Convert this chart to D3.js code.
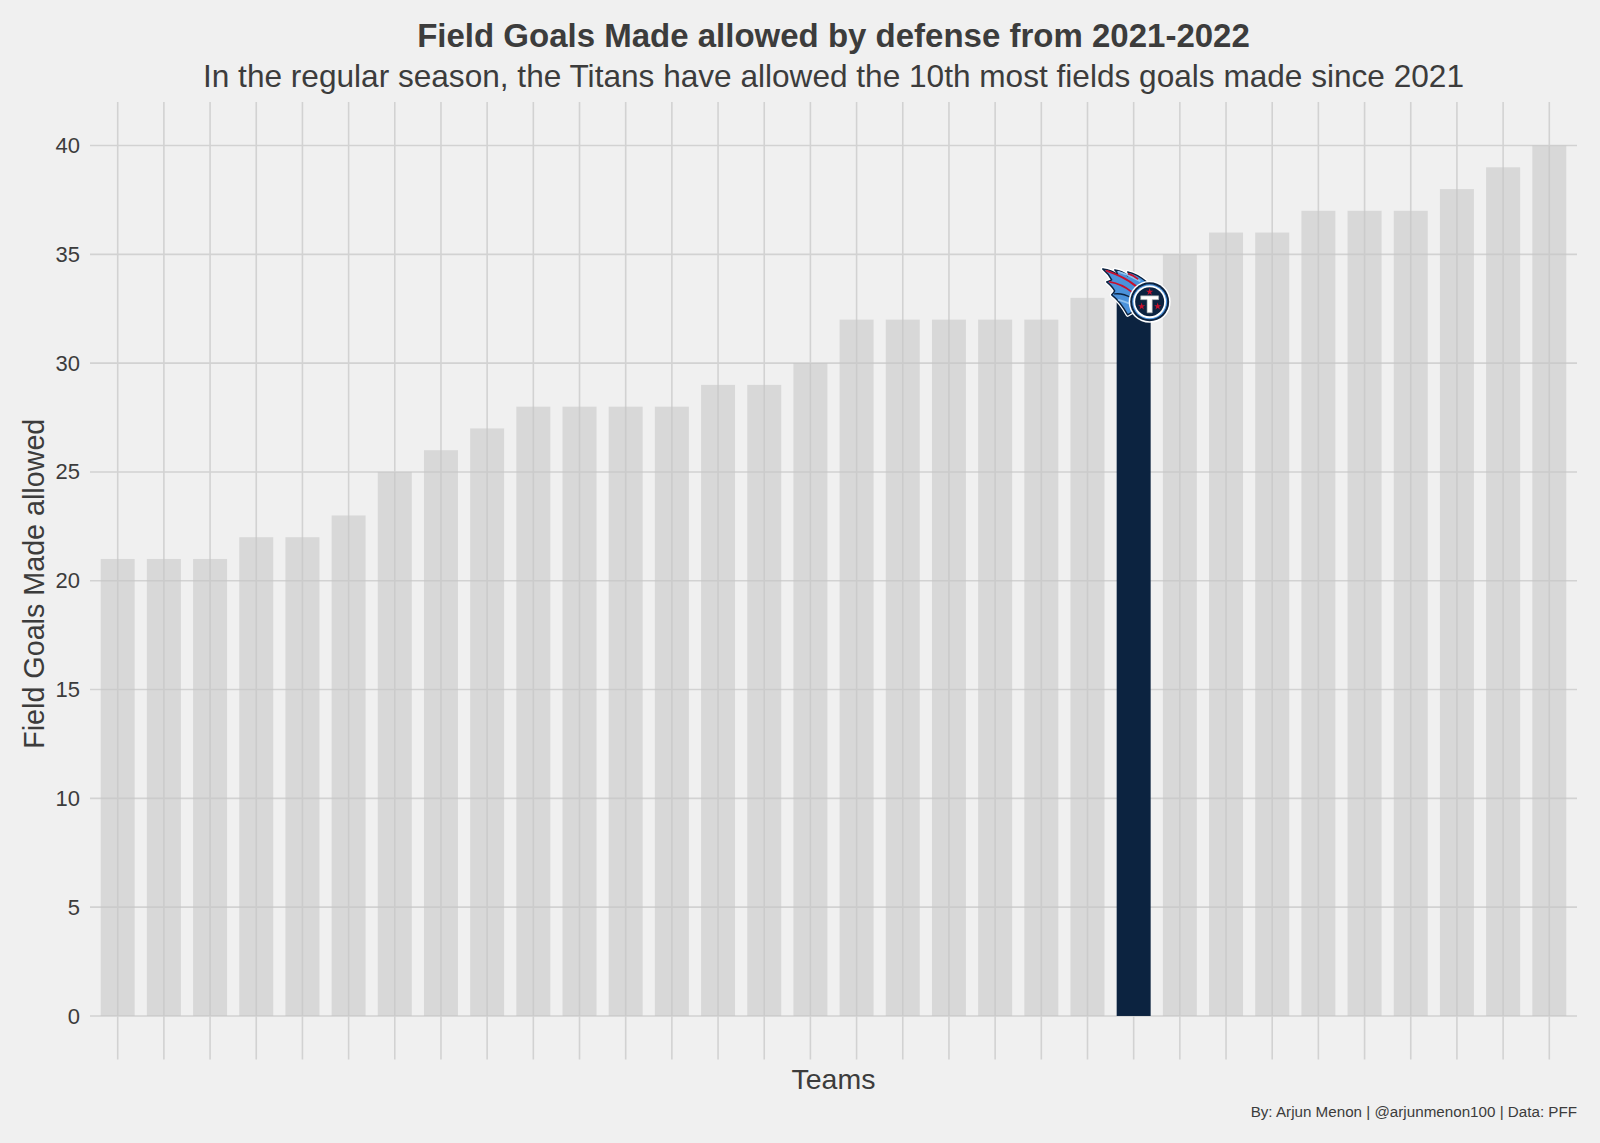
<!DOCTYPE html>
<html>
<head>
<meta charset="utf-8">
<script src="https://cdn.jsdelivr.net/npm/d3@7"></script>
<style>
  html, body { margin: 0; padding: 0; background: #F0F0F0; }
  svg { display: block; font-family: "Liberation Sans", Arial, Helvetica, sans-serif; }
</style>
</head>
<body>
<svg id="chart" width="1600" height="1143"></svg>
<script>
// ---- data ----
const ranks = d3.range(1, 33).map(i => "Team " + i);          // teams ordered by FG made allowed (ascending)
const fgAllowed = [21, 21, 21, 22, 22, 23, 25, 26, 27, 28, 28, 28, 28, 29, 29, 30,
                   32, 32, 32, 32, 32, 33, 33, 35, 36, 36, 37, 37, 37, 38, 39, 40];
const highlightIndex = 22;                                     // Tennessee Titans
ranks[highlightIndex] = "TEN";
const yTicks = [0, 5, 10, 15, 20, 25, 30, 35, 40];
const titleText = "Field Goals Made allowed by defense from 2021-2022";
const subtitleText = "In the regular season, the Titans have allowed the 10th most fields goals made since 2021";
const xLabel = "Teams";
const yLabel = "Field Goals Made allowed";
const captionText = "By: Arjun Menon | @arjunmenon100 | Data: PFF";

// ---- layout ----
const W = 1600, H = 1143;
const panel = { left: 90, right: 1577, top: 102, bottom: 1059.5 };
const svg = d3.select("#chart");
svg.append("rect").attr("width", W).attr("height", H).attr("fill", "#F0F0F0");

const x = d3.scalePoint().domain(ranks).range([panel.left, panel.right]).padding(0.6);
const barW = x.step() * 0.736;
const y = d3.scaleLinear().domain([-2, 42]).range([panel.bottom, panel.top]);

const gridColor = "#D2D2D2";
const textColor = "#3C3C3C";

// gridlines
svg.append("g").selectAll("line").data(ranks).join("line")
  .attr("x1", d => x(d)).attr("x2", d => x(d))
  .attr("y1", panel.top).attr("y2", panel.bottom)
  .attr("stroke", gridColor).attr("stroke-width", 1.6);
svg.append("g").selectAll("line").data(yTicks).join("line")
  .attr("x1", panel.left).attr("x2", panel.right)
  .attr("y1", d => y(d)).attr("y2", d => y(d))
  .attr("stroke", gridColor).attr("stroke-width", 1.6);

// y axis labels
const yAxis = d3.axisLeft(y).tickValues(yTicks).tickSize(0).tickPadding(10);
const gy = svg.append("g").attr("transform", `translate(${panel.left},0)`).call(yAxis);
gy.select(".domain").remove();
gy.selectAll("text").attr("font-size", 22).attr("fill", textColor)
  .attr("font-family", "'Liberation Sans', Arial, Helvetica, sans-serif");

// bars
svg.append("g").selectAll("rect").data(fgAllowed).join("rect")
  .attr("x", (d, i) => x(ranks[i]) - barW / 2)
  .attr("width", barW)
  .attr("y", d => y(d))
  .attr("height", d => y(0) - y(d))
  .attr("fill", (d, i) => i === highlightIndex ? "#0C2340" : "#C4C4C4")
  .attr("fill-opacity", (d, i) => i === highlightIndex ? 1 : 0.55);

// Titans logo at top of highlighted bar
(function drawLogo() {
  const cx = x(ranks[highlightIndex]) + 16;
  const cy = y(fgAllowed[highlightIndex]) + 4;
  const g = svg.append("g").attr("transform", `translate(${cx},${cy})`);
  const navy = "#0C2340", blue = "#4B92DB", red = "#C8102E", light = "#8FC1EE";
  const plume = "M -2,-19 Q -12,-28 -22,-30 Q -20,-28 -22,-26 Q -27,-31 -35,-32 Q -32,-29 -32,-27 " +
                "Q -38,-32 -47,-33 Q -41,-28 -38,-22 Q -40,-21 -43,-20 Q -37,-15 -35,-11 " +
                "Q -36,-9 -38,-7 Q -29,0 -22,13 L 0,0 Z";
  g.append("path").attr("d", plume).attr("fill", "white")
    .attr("stroke", "white").attr("stroke-width", 4).attr("stroke-linejoin", "round");
  g.append("path").attr("d", plume).attr("fill", blue)
    .attr("stroke", navy).attr("stroke-width", 1.4).attr("stroke-linejoin", "round");
  // inner highlights & streaks
  const streak = (d, c, w) => g.append("path").attr("d", d).attr("fill", "none")
    .attr("stroke", c).attr("stroke-width", w).attr("stroke-linecap", "round");
  streak("M -10,-21 Q -20,-27 -31,-30", light, 2);
  streak("M -14,-16 Q -25,-25 -43,-31", red, 2);
  streak("M -12,-23 Q -17,-27 -21,-28", red, 1.6);
  streak("M -18,-10 Q -28,-18 -40,-20", red, 1.6);
  streak("M -18,-4 Q -27,-9 -35,-8", navy, 1.4);
  streak("M -17,3 Q -24,0 -31,-2", light, 1.8);
  // medallion
  g.append("circle").attr("r", 21).attr("fill", "white");
  g.append("circle").attr("r", 19.5).attr("fill", navy);
  g.append("circle").attr("r", 17.5).attr("fill", blue);
  g.append("circle").attr("r", 16.3).attr("fill", "white");
  g.append("circle").attr("r", 14.5).attr("fill", navy);
  // T
  g.append("path").attr("d", "M-9,-6 L9,-6 L9,-2.2 L2.6,-2.2 L2.6,11 L-2.6,11 L-2.6,-2.2 L-9,-2.2 Z")
    .attr("fill", "white").attr("stroke", "#9EA2A2").attr("stroke-width", 0.6);
  // stars
  const star = d3.symbol().type(d3.symbolStar).size(16);
  [[0, -10], [-8, 4.5], [8, 4.5]].forEach(p =>
    g.append("path").attr("d", star()).attr("transform", `translate(${p[0]},${p[1]})`).attr("fill", red));
})();

// titles
const midX = (panel.left + panel.right) / 2;
svg.append("text").attr("x", midX).attr("y", 47).attr("text-anchor", "middle")
  .attr("font-size", 33).attr("font-weight", "bold").attr("fill", textColor).text(titleText);
svg.append("text").attr("x", midX).attr("y", 87).attr("text-anchor", "middle")
  .attr("font-size", 31.6).attr("fill", textColor).text(subtitleText);

// axis titles
svg.append("text").attr("x", midX).attr("y", 1089).attr("text-anchor", "middle")
  .attr("font-size", 28.5).attr("fill", textColor).text(xLabel);
svg.append("text").attr("transform", `translate(43.5,${(panel.top + panel.bottom) / 2 + 3}) rotate(-90)`)
  .attr("text-anchor", "middle").attr("font-size", 28.7).attr("fill", textColor).text(yLabel);

// caption
svg.append("text").attr("x", panel.right).attr("y", 1117).attr("text-anchor", "end")
  .attr("font-size", 15.2).attr("fill", textColor).text(captionText);
</script>
</body>
</html>
